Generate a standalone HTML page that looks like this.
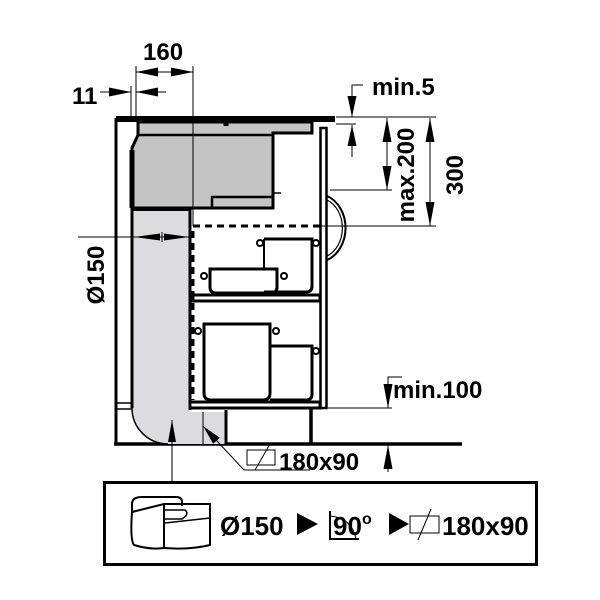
<!DOCTYPE html>
<html><head><meta charset="utf-8"><style>
html,body{margin:0;padding:0;background:#fff;}
svg{display:block;}
text{font-family:"Liberation Sans",Arial,sans-serif;fill:#000;font-weight:bold;}
</style></head><body>
<svg width="600" height="600" viewBox="0 0 600 600" xmlns="http://www.w3.org/2000/svg">
<g fill="none" stroke="#000">
<line x1="116" y1="118" x2="116" y2="444" stroke-width="3"/>
<line x1="116" y1="403" x2="132" y2="403" stroke-width="1.5"/>
<line x1="116" y1="409" x2="132" y2="409" stroke-width="1.5"/>
<line x1="114" y1="444" x2="462" y2="444" stroke-width="3.5"/>
<path d="M138,122 H312 V133 H273 V208 H132 V148 L138,135 Z" fill="#c4c4c4" stroke-width="3"/>
<line x1="132" y1="150" x2="132" y2="208" stroke-width="5"/>
<line x1="138" y1="135" x2="273" y2="135" stroke-width="2.5"/>
<path d="M212,208 V197 H273" stroke-width="2.5"/>
<line x1="273" y1="193" x2="281" y2="193" stroke-width="1.5"/>
<line x1="226" y1="118" x2="226" y2="126" stroke-width="5"/>
<rect x="116" y="116" width="219" height="6" fill="#000" stroke="none"/>
<path d="M132,208 H190 V412 H225 V444 H168 A36,36 0 0 1 132,408 Z" fill="#dcdcde" stroke="none"/>
<line x1="132" y1="208" x2="132" y2="408" stroke-width="3"/>
<line x1="190" y1="208" x2="190" y2="410" stroke-width="3"/>
<path d="M132,408 A36,36 0 0 0 168,444" stroke-width="1.5"/>
<line x1="133" y1="209" x2="190" y2="209" stroke-width="4"/>
<line x1="203" y1="412" x2="203" y2="444" stroke-width="1"/>
<line x1="226" y1="410" x2="226" y2="444" stroke-width="3"/>
<line x1="311" y1="408" x2="311" y2="444" stroke-width="3.5"/>
<path d="M320,226 H193 V400" stroke-width="3" stroke-dasharray="7,5"/>
<rect x="320.5" y="128" width="6" height="280" stroke-width="2.5"/>
<path d="M327,196 A28,34 0 0 1 327,260" stroke-width="2"/>
<path d="M327,200 A24,30 0 0 1 327,256" stroke-width="1.2"/>
<rect x="193" y="295" width="127" height="6" stroke-width="3"/>
<rect x="190" y="402" width="130" height="6" stroke-width="3"/>
<path d="M264,239 H312 V286 Q312,292 306,292 H264" stroke-width="3"/>
<line x1="264" y1="239" x2="264" y2="268" stroke-width="2"/>
<circle cx="260" cy="243" r="3" stroke-width="2"/><circle cx="316" cy="243" r="3" stroke-width="2"/>
<path d="M210,269 H277 V287 Q277,293 271,293 H216 Q210,293 210,287 Z" stroke-width="3"/>
<circle cx="204" cy="276" r="3" stroke-width="2"/><circle cx="284" cy="276" r="3" stroke-width="2"/>
<path d="M204,324 H270 V393 Q270,400 263,400 H211 Q204,400 204,393 Z" stroke-width="3"/>
<circle cx="198" cy="331" r="3" stroke-width="2"/><circle cx="276" cy="331" r="3" stroke-width="2"/>
<path d="M270,346 H312 V394 Q312,400 306,400 H270" stroke-width="3"/>
<circle cx="316" cy="351" r="3" stroke-width="2"/>
<g stroke-width="1">
<line x1="136" y1="66" x2="136" y2="117"/>
<line x1="193" y1="66" x2="193" y2="226"/>
<line x1="136" y1="72" x2="193" y2="72"/>
<line x1="131" y1="86" x2="131" y2="117"/>
<line x1="100" y1="92" x2="131" y2="92"/>
<line x1="166" y1="92" x2="136" y2="92"/>
<path d="M363,85 H352 V117"/>
<line x1="352" y1="157" x2="352" y2="125"/>
<line x1="336" y1="117" x2="436" y2="117"/>
<line x1="336" y1="124" x2="356" y2="124"/>
<line x1="387" y1="190" x2="387" y2="118"/>
<line x1="330" y1="190" x2="392" y2="190"/>
<line x1="430" y1="226" x2="430" y2="118"/>
<line x1="320" y1="226" x2="436" y2="226"/>
<line x1="78" y1="237" x2="190" y2="237"/>
<line x1="162" y1="232" x2="162" y2="242"/>
<path d="M402,377 H388 V408"/>
<line x1="388" y1="472" x2="388" y2="445"/>
<line x1="328" y1="408" x2="392" y2="408"/>
<path d="M310,470 H244 L203,426" />
<line x1="172" y1="420" x2="172" y2="482"/>
</g>
<rect x="247" y="450" width="28" height="15" stroke-width="1"/>
<line x1="255" y1="470" x2="270" y2="444" stroke-width="1"/>
<rect x="104.5" y="482.5" width="432" height="82" stroke-width="3"/>
<path d="M132,512 V504 Q132,497 142,497 H176 Q182,497 182,502 V506" stroke-width="2"/>
<path d="M132,512 L164,504 H210 L210,545 Q190,550 164,548 L164,504" stroke-width="2"/>
<path d="M132,512 Q130,540 134,545 Q150,550 164,548" stroke-width="2"/>
<path d="M165,510 H185 Q190,514 182,519 H165" stroke-width="1.5"/>
<line x1="165" y1="523" x2="210" y2="518" stroke-width="1.5"/>
<path d="M330,511 V539 H359" stroke-width="2"/>
<path d="M330,516 Q352,518 356,539" stroke-width="1"/>
<line x1="336" y1="539" x2="356" y2="539" stroke-width="2"/>
<rect x="410" y="516" width="29" height="17" stroke-width="1"/>
<line x1="418" y1="540" x2="431" y2="509" stroke-width="1"/>
</g>
<g fill="#000">
<polygon points="136,72 158,67.5 158,76.5"/>
<polygon points="193,72 171,67.5 171,76.5"/>
<polygon points="131,92 109,87.5 109,96.5"/>
<polygon points="136,92 158,87.5 158,96.5"/>
<polygon points="352,117 347.5,96 356.5,96"/>
<polygon points="352,125 347.5,146 356.5,146"/>
<polygon points="387,118 382.5,142 391.5,142"/>
<polygon points="387,190 382.5,166 391.5,166"/>
<polygon points="430,118 425.5,142 434.5,142"/>
<polygon points="430,226 425.5,202 434.5,202"/>
<polygon points="134,237 160,233.5 160,240.5"/>
<polygon points="189,237 164,233.5 164,240.5"/>
<polygon points="388,408 383.5,384 392.5,384"/>
<polygon points="388,445 383.5,469 392.5,469"/>
<polygon points="203,426 219.8,437.7 213.2,443.7"/>
<polygon points="172,420 168,442 176,442"/>
<path d="M297,513 L318,524 L297,535 Z"/>
<path d="M389,513 L409,524 L389,535 Z"/>
</g>
<text x="143" y="60" font-size="24">160</text>
<text x="72" y="104" font-size="24">11</text>
<text x="372" y="95" font-size="24">min.5</text>
<text x="393" y="398" font-size="24">min.100</text>
<text x="279" y="470" font-size="24">180x90</text>
<text transform="translate(414,175) rotate(-90)" font-size="24" text-anchor="middle">max.200</text>
<text transform="translate(463,175) rotate(-90)" font-size="24" text-anchor="middle">300</text>
<text transform="translate(104,275) rotate(-90)" font-size="24" text-anchor="middle">Ø150</text>
<text x="220" y="535" font-size="26">Ø150</text>
<text x="333" y="535" font-size="26">90</text>
<text x="362" y="524" font-size="16">o</text>
<text x="442" y="535" font-size="26">180x90</text>
</svg>
</body></html>
